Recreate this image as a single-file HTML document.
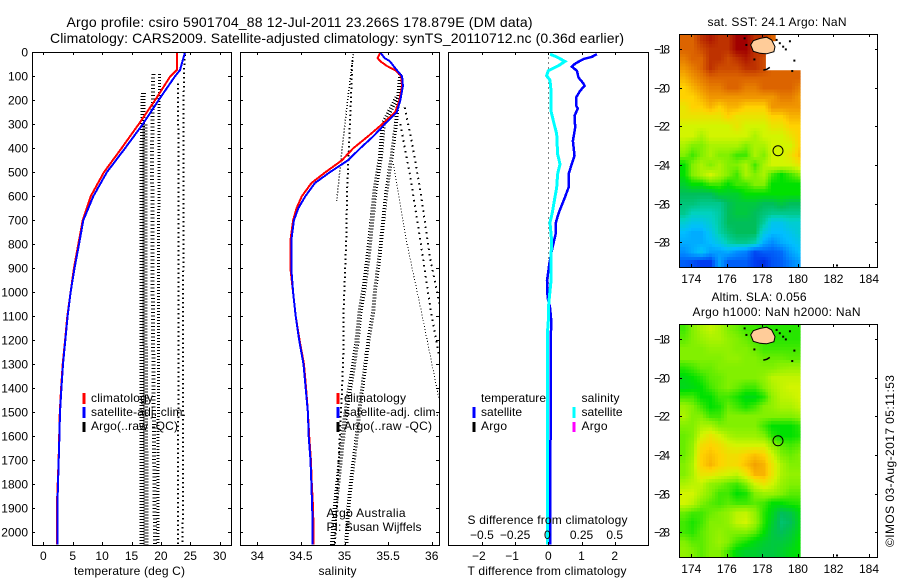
<!DOCTYPE html>
<html lang="en">
<head>
<meta charset="utf-8">
<title>Argo profile csiro 5901704_88</title>
<style>
html,body{margin:0;padding:0;background:#fff;width:900px;height:580px;overflow:hidden}
svg{display:block}
text{font-family:"Liberation Sans",Arial,sans-serif;font-size:12px;fill:#000}
.title{font-size:14px}
.frame{fill:none;stroke:#000;stroke-width:1;shape-rendering:crispEdges}
.stub{stroke-width:3;shape-rendering:crispEdges}
</style>
</head>
<body>
<svg id="chart" xmlns="http://www.w3.org/2000/svg" width="900" height="580" viewBox="0 0 900 580">
  <defs>
    <clipPath id="clip-temp"><rect x="32" y="52" width="200" height="494"/></clipPath>
    <clipPath id="clip-sal"><rect x="240" y="52" width="200" height="494"/></clipPath>
    <clipPath id="clip-diff"><rect x="448" y="52" width="201" height="494"/></clipPath>
    <clipPath id="clip-map1"><rect x="680" y="35" width="120.6" height="232"/></clipPath>
    <clipPath id="clip-map2"><rect x="680" y="325" width="120.6" height="232"/></clipPath>
  </defs>
  <text class="title" x="66.5" y="27" textLength="466" lengthAdjust="spacing">Argo profile: csiro 5901704_88 12-Jul-2011 23.266S 178.879E (DM data)</text>
  <text class="title" x="50" y="43" textLength="574" lengthAdjust="spacing">Climatology: CARS2009. Satellite-adjusted climatology: synTS_20110712.nc (0.36d earlier)</text>

  <g id="temp-panel"></g>
  <g id="sal-panel"></g>
  <g id="diff-panel"></g>
  <g id="map1-panel"></g>
  <g id="map2-panel"></g>

  <rect class="frame" x="32.5" y="52.5" width="199" height="493"/>
  <rect class="frame" x="240.5" y="52.5" width="199" height="493"/>
  <rect class="frame" x="448.5" y="52.5" width="200" height="493"/>
  <rect class="frame" x="679.5" y="34.5" width="198" height="233"/>
  <rect class="frame" x="679.5" y="324.5" width="198" height="233"/>

  <text x="74" y="575" textLength="111" lengthAdjust="spacing">temperature (deg C)</text>
  <text x="318.5" y="575" textLength="38" lengthAdjust="spacing">salinity</text>
  <text x="467.5" y="575" textLength="159" lengthAdjust="spacing">T difference from climatology</text>
  <text x="467.5" y="524" textLength="160" lengthAdjust="spacing">S difference from climatology</text>

  <g>
    <line class="stub" x1="84" x2="84" y1="393" y2="404" stroke="#f00"/>
    <line class="stub" x1="84" x2="84" y1="407" y2="418" stroke="#00f"/>
    <line class="stub" x1="84" x2="84" y1="422" y2="432" stroke="#000"/>
    <text x="91" y="402" textLength="62" lengthAdjust="spacing">climatology</text>
    <text x="91" y="416" textLength="95" lengthAdjust="spacing">satellite-adj. clim.</text>
    <text x="91" y="430" textLength="87" lengthAdjust="spacing">Argo(..raw -QC)</text>
  </g>
  <g>
    <line class="stub" x1="338" x2="338" y1="393" y2="404" stroke="#f00"/>
    <line class="stub" x1="338" x2="338" y1="407" y2="418" stroke="#00f"/>
    <line class="stub" x1="338" x2="338" y1="422" y2="432" stroke="#000"/>
    <text x="344" y="402" textLength="62" lengthAdjust="spacing">climatology</text>
    <text x="344" y="416" textLength="95" lengthAdjust="spacing">satellite-adj. clim.</text>
    <text x="344" y="430" textLength="88" lengthAdjust="spacing">Argo(..raw -QC)</text>
    <text x="326.5" y="517" textLength="79" lengthAdjust="spacing">Argo Australia</text>
    <text x="326.5" y="531" textLength="95" lengthAdjust="spacing">PI: Susan Wijffels</text>
  </g>
  <g>
    <text x="481" y="402" textLength="65" lengthAdjust="spacing">temperature</text>
    <line class="stub" x1="474" x2="474" y1="407" y2="418" stroke="#00f"/>
    <line class="stub" x1="474" x2="474" y1="422" y2="432" stroke="#000"/>
    <text x="481" y="416" textLength="41" lengthAdjust="spacing">satellite</text>
    <text x="481" y="430" textLength="26" lengthAdjust="spacing">Argo</text>
    <text x="581.5" y="402" textLength="38" lengthAdjust="spacing">salinity</text>
    <line class="stub" x1="574" x2="574" y1="407" y2="418" stroke="#0ff"/>
    <line class="stub" x1="574" x2="574" y1="422" y2="432" stroke="#f0f"/>
    <text x="581.5" y="416" textLength="41" lengthAdjust="spacing">satellite</text>
    <text x="581.5" y="430" textLength="26" lengthAdjust="spacing">Argo</text>
  </g>

  <text x="707.5" y="26" textLength="139" lengthAdjust="spacing">sat. SST: 24.1 Argo: NaN</text>
  <text x="711.5" y="301" textLength="95" lengthAdjust="spacing">Altim. SLA: 0.056</text>
  <text x="692.5" y="316" textLength="168" lengthAdjust="spacing">Argo h1000: NaN h2000: NaN</text>
  <text transform="translate(894,547) rotate(-90)" textLength="172" lengthAdjust="spacing">©IMOS 03-Aug-2017 05:11:53</text>
</svg>

<script>
/* ---------- axis tick values ---------- */
const depthTicks = [0,100,200,300,400,500,600,700,800,900,1000,1100,1200,1300,1400,1500,1600,1700,1800,1900,2000];
const tempTicks = [0,5,10,15,20,25,30];
const salTicks = [34,34.5,35,35.5,36];
const salTickLabels = ['34','34.5','35','35.5','36'];
const tDiffTicks = [-2,-1,0,1,2];
const tDiffLabels = ['\u22122','\u22121','0','1','2'];
const sDiffTicks = [-0.5,-0.25,0,0.25,0.5];
const sDiffLabels = ['\u22120.5','\u22120.25','0','0.25','0.5'];
const lonTicks = [174,176,178,180,182,184];
const latTicks = [-18,-20,-22,-24,-26,-28];

/* ---------- temperature profiles ---------- */
const profileDepths = [0,74,100,200,300,400,500,600,700,800,900,1000,1100,1200,1300,1400,1500,1600,1700,1800,1900,2000,2050];
const tempClimatology = [22.7,22.7,21.6,19.0,16.2,13.3,10.3,8.06,6.7,5.96,5.2,4.65,4.08,3.7,3.3,3.02,2.8,2.7,2.6,2.45,2.3,2.35,2.35];
const tempSatellite = [24.1,23.25,22.4,19.6,16.9,13.9,10.8,8.5,6.8,6.07,5.3,4.65,4.14,3.75,3.35,3.07,2.84,2.73,2.62,2.5,2.38,2.38,2.38];

const argoTempDepthsA = [130,500,1000,2054];
const argoTempA = [22.9,23.0,23.0,22.9];
const argoTempDepthsB = [10,100,1000,2054];
const argoTempB = [24.1,23.9,23.8,23.7];
const argoTempDepthsC = [90,400,1000,2054];
const argoTempC = [18.7,18.5,18.6,19.0];
const argoTempDepthsD = [90,200,1000,2054];
const argoTempD = [19.8,19.7,19.6,19.5];
const argoTempDepthsE = [170,400,1000,2054];
const argoTempE = [17.0,16.8,16.8,16.8];
const argoTempDepthsF = [300,1000,2054];
const argoTempF = [17.3,17.3,17.5];

/* ---------- salinity profiles ---------- */
const salDepthsClim = [0,24,37,56,74,100,140,200,250,300,350,400,450,500,545,600,650,700,785,900,1000,1100,1200,1300,1400,1500,1600,1700,1800,1900,2000,2050];
const salClimatology = [35.41,35.38,35.41,35.48,35.58,35.65,35.66,35.63,35.58,35.43,35.27,35.10,34.97,34.78,34.62,34.51,34.45,34.41,34.38,34.38,34.41,34.44,34.485,34.535,34.56,34.58,34.595,34.615,34.625,34.64,34.645,34.645];
const salSatellite = [35.41,35.46,35.52,35.56,35.6,35.66,35.67,35.64,35.6,35.46,35.33,35.18,35.04,34.83,34.66,34.55,34.47,34.42,34.39,34.39,34.41,34.44,34.48,34.53,34.555,34.58,34.59,34.61,34.62,34.63,34.635,34.635];

const argoSalDepthsA = [8,188,410,619];
const argoSalA = [35.10,35.04,34.97,34.91];
const argoSalDepthsB = [35,230,577,785,1077,1216,1424,1633,1841,2054];
const argoSalB = [35.09,35.07,35.03,35.02,34.99,34.99,34.97,34.94,34.92,34.89];
const argoSalDepthsC = [188,299,438,577,716,855,994,1077,1216,1355,1494,1633,1772,1910,2054];
const argoSalC = [35.6,35.445,35.41,35.35,35.31,35.27,35.22,35.18,35.14,35.08,35.02,34.97,34.93,34.89,34.86];
const argoSalDepthsD = [91,299,438,577,716,855,994,1077,1216,1355,1494,1633,1772,1910,2054];
const argoSalD = [35.64,35.59,35.54,35.48,35.44,35.40,35.35,35.33,35.27,35.22,35.17,35.13,35.08,35.04,35.02];
const argoSalDepthsE = [230,369,577,855,1049];
const argoSalE = [35.69,35.77,35.87,35.98,36.09];
const argoSalDepthsF = [299,508,785,1077,1258];
const argoSalF = [35.64,35.75,35.87,35.99,36.08];
const argoSalDepthsG = [466,785,1077,1438];
const argoSalG = [35.56,35.71,35.88,36.08];

/* ---------- differences from climatology ---------- */
const tDiffDepths = [8,19,28,47,60,77,105,130,140,160,188,223,234,265,313,369,431,473,508,563,612,646,674,709,757,799,841,883,952,1022,1063,1119,1216,1550,1772,1994,2050];
const tDiffSatellite = [1.46,1.31,1.06,0.81,0.71,0.86,0.91,1.06,1.09,0.96,0.84,0.84,0.89,0.79,0.81,0.74,0.79,0.69,0.61,0.61,0.48,0.38,0.30,0.23,0.22,0.15,0.08,0.03,-0.04,-0.02,0.05,0.09,0.07,0.07,0.06,0.06,0.06];
const sDiffDepths = [8,19,38,56,77,98,116,160,244,285,341,424,466,508,563,619,668,709,785,855,952,1035,1077,1119,1160,1994,2050];
const sDiffSatellite = [0.0126,0.063,0.126,0.076,0,-0.0126,0.0126,0.02,0.02,0.038,0.063,0.07,0.088,0.07,0.063,0.045,0.03,0.0126,0.025,0.02,0.02,0.005,0,0,-0.005,-0.005,-0.005];

/* ---------- map fields (colour-scale index per half-degree cell, north to south) ---------- */
const sstRows = [
[11,11,12,12.5,12,12,13,13,12,12,11,11,11,11],
[11,11,11.5,12,12,12,13,13,12,12,11,11,11,11],
[10.5,11,11,12,12,11.5,12,12.5,12,11.5,11,11,11,11],
[10,10.5,11,12,11.5,11.5,11.5,12,12,11.5,11,11,11,11],
[9.5,10,10.5,11,11,11,11,11,11,11,11,11,11,11],
[9,9.5,10,10.5,10.5,11,11,10.5,10.5,11,11,11,11,10.5],
[9,9,9.5,10,10,10,10,10,10,10,10,10.5,10.5,10],
[8.5,9,9,9.5,9,9.5,9.5,9,9,9,10,10,10,10],
[8.5,8.5,8.5,8.5,8.5,9,8.5,8.5,8.5,8.5,9,9,9.5,9.5],
[8,8,8,8,8,8,8.5,8,8,8,8.5,8.5,9,9],
[8,8,7.5,8,8,8,8,8,7.5,8,8,8,8.5,9],
[7.5,7,7,7.5,7.5,7.5,7.5,7,7.5,7.5,8,8,8,9],
[7,6.5,7,7.5,7,7,6.5,6.5,7.5,7,8,8,8.5,9.3],
[6,7,7.5,7,7.5,7,7,7.5,6.5,7.5,8,8,8,8.5],
[6,7,7.5,8,7.5,7,6.5,7.5,7,7.5,6.5,6,6.5,7],
[5.5,6,6,6.5,6.5,6,6.5,6.5,7,7,6,6,6,6],
[5,5,5,5,5.5,5.5,5.5,6,6,6,6,6,6,6],
[4.7,4.7,4.5,4.5,4.5,5,5.3,5.3,5.3,5,5,5.3,5,5],
[4.5,4,4,4,4.3,5,5.3,5.3,5,4.7,4.5,4.5,4.5,4.5],
[3.7,3.3,3.3,3.7,4.3,5,5,5,5,4.3,3.3,3.3,3.7,3.7],
[3,2.7,2.7,3.3,4.2,4.7,5,5,5,3.5,3,3,3.3,3.7],
[2.7,2.7,2.7,3,3.5,4.2,4.5,4.5,4.2,2.7,2.2,2.7,3,3.3],
[2.2,2.7,3.2,2.5,2.5,2.7,2.2,2,1.2,1.5,1.5,1.7,2.5,3],
[1.5,1.3,1,1,2.5,1.5,1.5,1.5,1,0.8,1.3,1.5,2,2.5]
];
const slaRows = [
[6.5,7,7.5,7.8,7.5,7,6.8,6.5,6.5,6.3,6.3,6.3,6.3,6.3],
[6.7,7,7.3,7.5,7.5,7.2,7,6.8,6.5,6.5,6.3,6.3,6.3,6.3],
[7,7,7,7.2,7.2,7.2,7,7,6.8,6.5,6.5,6.5,6.5,6.5],
[7,7,7,7,7,7.2,7.2,7,7,6.8,6.8,6.8,6.7,6.7],
[6.3,6.5,6.8,6.8,7,7,7,7,7,7,7,7.2,7.3,7.3],
[5.8,6,6.3,6.7,6.8,7,7,7,7,7.2,7.7,7.8,7.8,7.8],
[5.7,5.8,6,6.5,6.8,7,6.8,6.5,6.5,7,7.5,7.8,8,8],
[6.5,6.5,6,6,6.5,6.5,6.2,5.8,5.8,6.3,7.2,7.7,7.8,8],
[7.3,7,6.5,6,6.2,6.8,6.5,6.2,6.5,7,7.2,7.5,7.5,7.8],
[7.5,7,7,6.5,6.5,7,7,7,7,7,7,7,7,7.2],
[7,7,7.5,7.5,7,7,7,7,7,6.5,6,6,6,6.3],
[6.8,7,8,8.5,8,7.5,7.3,7.3,7.3,7,6.3,6,6,6.2],
[6.8,7.2,8.7,9,8.7,8.2,8,8,8,8,7.2,6.7,6.5,6.7],
[6.8,7.3,9,9.3,9,8.7,8.7,9,9.3,9,8,7,6.8,7],
[7,7.5,9,9.5,9,8.7,8.8,9.3,9.8,9.5,8.5,7.5,7,7],
[7,7.5,8.5,8.5,8.2,8,7.8,8.5,9.5,9.5,8.5,7.5,7.2,7.2],
[7.5,7.7,7.8,7.2,7,6.7,6.5,7,8,8.5,8,7.3,7,7],
[8,8,7.5,7,6.5,6.5,6,6.2,7,7.3,7.3,7,6.7,6.7],
[8,7.7,7,6.7,6.5,6.7,6.5,6.5,6.7,6.5,6,6,6.2,6.3],
[6.8,6.5,6.5,6.8,7,7.2,7.7,7.8,7.2,6.3,5.7,5,5.2,5.8],
[6.5,6.2,6.5,7,7,7.2,7.8,8,7.3,6.3,5.5,4.8,5,5.7],
[6.5,6.3,6.7,7,7.2,7,7,7,6.7,6,5.3,5,5.3,5.8],
[7,6.7,6.7,7,7.3,7,6.5,6.2,5.8,5.5,5.3,5.3,5.5,6],
[7.2,7,6.7,7,7,6.5,5.8,5.5,5.5,5.3,5.3,5.5,5.8,6]
];
const colormapStops = [[0,0,170],[0,60,240],[0,130,255],[0,190,255],[0,210,190],[0,190,90],[0,225,0],[130,240,0],[210,245,0],[255,210,0],[240,150,0],[220,100,0],[190,50,0],[160,0,0]];

/* ---------- geography (lon, lat) ---------- */
const islandLons = [177.34,177.49,177.87,178.24,178.52,178.71,178.65,178.24,177.87,177.49];
const islandLats = [-17.79,-17.57,-17.45,-17.39,-17.53,-17.88,-18.14,-18.25,-18.22,-18.12];
const islet1Lons = [178.05,178.25,178.42];
const islet1Lats = [-19.09,-19.05,-18.95];
const isletSpotLons = [177.0,177.1,177.55,178.8,178.98,179.17,179.32,179.55,179.68,179.8,182.2];
const isletSpotLats = [-17.45,-17.79,-18.54,-17.53,-17.7,-17.88,-18.02,-17.6,-19.14,-18.6,-29.2];
const sstNoDataLons = [178.75,180.2,180.2,178.2,178.2,178.75];
const sstNoDataLats = [-17.22,-17.22,-19.1,-19.1,-17.6,-17.6];
const profileLon = 178.879;
const profileLat = -23.266;

/* ---------- axis functions ---------- */
const yDepth = d => 52.3 + d * 0.24;
const xTemp = v => 43.3 + v * 5.88;
const xSal = v => 257.3 + (v - 34) * 87.2;
const xTDiff = v => 548.3 + v * 33.2;
const xSDiff = v => 548.3 + v * 132.8;
const xLon = v => 691.3 + (v - 174) * 17.77;
const yLat = (v, y18) => y18 + (-18 - v) * 19.33;

const NS = 'http://www.w3.org/2000/svg';
function mk(tag, parent, attrs) {
  const el = document.createElementNS(NS, tag);
  Object.keys(attrs).forEach(k => el.setAttribute(k, attrs[k]));
  parent.appendChild(el);
  return el;
}
function label(parent, x, y, anchor, str, name) {
  const t = mk('text', parent, {x: x, y: y, 'text-anchor': anchor});
  t.textContent = str;
  
  
  return t;
}
function tick(parent, x1, y1, x2, y2, name) {
  const l = mk('line', parent, {x1: x1, y1: y1, x2: x2, y2: y2, stroke: '#000', 'stroke-width': 1, 'shape-rendering': 'crispEdges'});
  
  
}
function depthTickMarks(parent, left, right, withLabels) {
  depthTicks.forEach(d => {
    const y = Math.round(yDepth(d)) + 0.5;
    tick(parent, left, y, left + 3, y, 'depth-tick-left');
    tick(parent, right - 3, y, right, y, 'depth-tick-right');
    if (withLabels) label(parent, 28, y + 4, 'end', String(d), 'depth-tick-label');
  });
}
function xTickMarks(parent, values, scale, top, bottom) {
  values.forEach(v => {
    const x = Math.round(scale(v)) + 0.5;
    tick(parent, x, top, x, top + 3, 'x-tick-top');
    tick(parent, x, bottom - 3, x, bottom, 'x-tick-bottom');
  });
}
function profile(parent, values, depths, scale, color, width, dash, clip, name) {
  const pts = values.map((v, i) => scale(v).toFixed(1) + ',' + yDepth(depths[i]).toFixed(1)).join(' ');
  const p = mk('polyline', parent, {points: pts, fill: 'none', stroke: color, 'stroke-width': width, 'clip-path': 'url(#' + clip + ')', 'shape-rendering': 'crispEdges'});
  if (dash) p.setAttribute('stroke-dasharray', dash);
  
  
}

/* ---------- temperature panel ---------- */
const tempPanel = document.getElementById('temp-panel');
profile(tempPanel, argoTempA, argoTempDepthsA, xTemp, '#000', 2, '1.5 3', 'clip-temp', 'argo-temperature-trace');
profile(tempPanel, argoTempB, argoTempDepthsB, xTemp, '#000', 2, '1.5 3', 'clip-temp', 'argo-temperature-trace');
profile(tempPanel, argoTempC, argoTempDepthsC, xTemp, '#000', 4, '1 2.5', 'clip-temp', 'argo-temperature-trace');
profile(tempPanel, argoTempD, argoTempDepthsD, xTemp, '#000', 3, '1 2', 'clip-temp', 'argo-temperature-trace');
profile(tempPanel, argoTempE, argoTempDepthsE, xTemp, '#000', 5, '1 2', 'clip-temp', 'argo-temperature-trace');
profile(tempPanel, argoTempF, argoTempDepthsF, xTemp, '#000', 5, '1 2', 'clip-temp', 'argo-temperature-trace');
profile(tempPanel, tempClimatology, profileDepths, xTemp, '#f00', 2, null, 'clip-temp', 'temperature-climatology-line');
profile(tempPanel, tempSatellite, profileDepths, xTemp, '#00f', 2, null, 'clip-temp', 'temperature-satellite-line');
depthTickMarks(tempPanel, 32, 231, true);
xTickMarks(tempPanel, tempTicks, xTemp, 52, 545);
tempTicks.forEach(v => label(tempPanel, xTemp(v), 560, 'middle', String(v), 'temperature-tick-label'));

/* ---------- salinity panel ---------- */
const salPanel = document.getElementById('sal-panel');
profile(salPanel, argoSalA, argoSalDepthsA, xSal, '#000', 1.5, '1 2', 'clip-sal', 'argo-salinity-trace');
profile(salPanel, argoSalB, argoSalDepthsB, xSal, '#000', 2, '1.5 3', 'clip-sal', 'argo-salinity-trace');
profile(salPanel, argoSalC, argoSalDepthsC, xSal, '#000', 5, '1 2', 'clip-sal', 'argo-salinity-trace');
profile(salPanel, argoSalD, argoSalDepthsD, xSal, '#000', 4, '1 2', 'clip-sal', 'argo-salinity-trace');
profile(salPanel, argoSalE, argoSalDepthsE, xSal, '#000', 2, '1.5 4', 'clip-sal', 'argo-salinity-trace');
profile(salPanel, argoSalF, argoSalDepthsF, xSal, '#000', 2, '1.5 4', 'clip-sal', 'argo-salinity-trace');
profile(salPanel, argoSalG, argoSalDepthsG, xSal, '#000', 1, '1 2', 'clip-sal', 'argo-salinity-trace');
profile(salPanel, salClimatology, salDepthsClim, xSal, '#f00', 2, null, 'clip-sal', 'salinity-climatology-line');
profile(salPanel, salSatellite, salDepthsClim, xSal, '#00f', 2, null, 'clip-sal', 'salinity-satellite-line');
depthTickMarks(salPanel, 240, 439, false);
xTickMarks(salPanel, salTicks, xSal, 52, 545);
salTicks.forEach((v, i) => label(salPanel, xSal(v), 560, 'middle', salTickLabels[i], 'salinity-tick-label'));

/* ---------- difference panel ---------- */
const diffPanel = document.getElementById('diff-panel');
const zeroLine = mk('line', diffPanel, {x1: xTDiff(0), x2: xTDiff(0), y1: yDepth(0), y2: yDepth(2054), stroke: '#000', 'stroke-width': 1, 'stroke-dasharray': '1 4', 'shape-rendering': 'crispEdges'});


profile(diffPanel, tDiffSatellite, tDiffDepths, xTDiff, '#00f', 2.5, null, 'clip-diff', 'temperature-difference-line');
profile(diffPanel, sDiffSatellite, sDiffDepths, xSDiff, '#0ff', 3, null, 'clip-diff', 'salinity-difference-line');
xTickMarks(diffPanel, tDiffTicks, xTDiff, 52, 545);
tDiffTicks.forEach((v, i) => label(diffPanel, xTDiff(v) - (v < 0 ? 3 : 0), 560, 'middle', tDiffLabels[i], 't-difference-tick-label'));
sDiffTicks.forEach((v, i) => label(diffPanel, xSDiff(v) - (v === 0 ? 1 : 0), 539, 'middle', sDiffLabels[i], 's-difference-tick-label'));

/* ---------- maps ---------- */
const subdivisions = 3;
function cellColor(v) {
  const i = Math.max(0, Math.min(colormapStops.length - 2, Math.floor(v)));
  const f = v - i;
  const a = colormapStops[i];
  const b = colormapStops[i + 1];
  return 'rgb(' + a.map((c, k) => Math.round(c + (b[k] - c) * f)).join(',') + ')';
}
function sampleField(rows, rowPos, colPos) {
  const r = Math.max(0, Math.min(rows.length - 1, rowPos));
  const c = Math.max(0, Math.min(rows[0].length - 1, colPos));
  const r0 = Math.floor(r);
  const c0 = Math.floor(c);
  const r1 = Math.min(rows.length - 1, r0 + 1);
  const c1 = Math.min(rows[0].length - 1, c0 + 1);
  const fr = r - r0;
  const fc = c - c0;
  const top = rows[r0][c0] * (1 - fc) + rows[r0][c1] * fc;
  const bot = rows[r1][c0] * (1 - fc) + rows[r1][c1] * fc;
  return top * (1 - fr) + bot * fr;
}
function drawMap(parent, rows, y18, top, bottom, clip, name) {
  const cells = mk('g', parent, {'clip-path': 'url(#' + clip + ')'});
  
  
  const step = 0.5 / subdivisions;
  rows.forEach((row, j) => {
    row.forEach((v, i) => {
      for (let sj = 0; sj < subdivisions; sj++) {
        for (let si = 0; si < subdivisions; si++) {
          const lon0 = 173.33 + i * 0.5 + si * step;
          const lat0 = -17.25 - j * 0.5 - sj * step;
          const x0 = xLon(lon0);
          const y0 = yLat(lat0, y18);
          const value = sampleField(rows, j + (sj + 0.5) / subdivisions - 0.5, i + (si + 0.5) / subdivisions - 0.5);
          const r = mk('rect', cells, {x: x0, y: y0, width: xLon(lon0 + step) - x0 + 0.5, height: yLat(lat0 - step, y18) - y0 + 0.5, fill: cellColor(value), 'shape-rendering': 'crispEdges'});
          
          
        }
      }
    });
  });
  const isl = mk('polygon', parent, {points: islandLons.map((lo, i) => xLon(lo).toFixed(1) + ',' + yLat(islandLats[i], y18).toFixed(1)).join(' '), fill: '#ffcc99', stroke: '#000', 'stroke-width': 1});
  
  
  const kadavu = mk('polyline', parent, {points: islet1Lons.map((lo, i) => xLon(lo).toFixed(1) + ',' + yLat(islet1Lats[i], y18).toFixed(1)).join(' '), fill: 'none', stroke: '#000', 'stroke-width': 1.5});
  
  
  isletSpotLons.forEach((lo, i) => {
    const s = mk('rect', parent, {x: xLon(lo) - 1, y: yLat(isletSpotLats[i], y18) - 1, width: 2, height: 2, fill: '#000'});
    
    
  });
  const c = mk('circle', parent, {cx: xLon(profileLon), cy: yLat(profileLat, y18), r: 5, fill: 'none', stroke: '#000', 'stroke-width': 1});
  
  
  lonTicks.forEach(v => {
    const x = Math.round(xLon(v)) + 0.5;
    tick(parent, x, top, x, top + 3, 'longitude-tick-top');
    tick(parent, x, bottom - 3, x, bottom, 'longitude-tick-bottom');
    label(parent, xLon(v), bottom + 16, 'middle', String(v), 'longitude-tick-label');
  });
  latTicks.forEach(v => {
    const y = Math.round(yLat(v, y18)) + 0.5;
    tick(parent, 679, y, 682, y, 'latitude-tick-left');
    tick(parent, 875, y, 878, y, 'latitude-tick-right');
    const lab = label(parent, 670, y + 4, 'end', '\u2212' + Math.abs(v), 'latitude-tick-label');
    lab.setAttribute('textLength', '16');
    lab.setAttribute('lengthAdjust', 'spacing');
  });
}
const map1 = document.getElementById('map1-panel');
const map2 = document.getElementById('map2-panel');
drawMap(map1, sstRows, 49, 34, 267, 'clip-map1', 'sst-map');
const mask = mk('polygon', map1, {points: sstNoDataLons.map((lo, i) => xLon(lo).toFixed(1) + ',' + yLat(sstNoDataLats[i], 49).toFixed(1)).join(' '), fill: '#fff'});


map1.insertBefore(mask, map1.children[1]);
drawMap(map2, slaRows, 339, 324, 557, 'clip-map2', 'sla-map');
</script>
</body>
</html>
